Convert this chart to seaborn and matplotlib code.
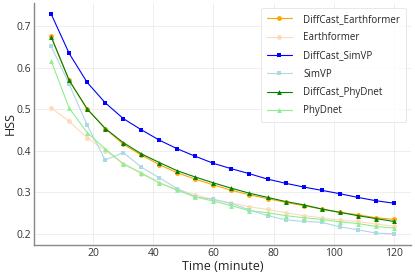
import numpy as np
import pandas as pd
import matplotlib
matplotlib.use("Agg")
import matplotlib.pyplot as plt
import seaborn as sns

# lead time in minutes
time_min = list(range(6, 121, 6))

diffcast_earthformer = [0.676, 0.570, 0.501, 0.454, 0.416, 0.390, 0.367, 0.347, 0.332, 0.318,
                        0.305, 0.294, 0.285, 0.276, 0.268, 0.260, 0.252, 0.246, 0.239, 0.235]
earthformer = [0.504, 0.471, 0.432, 0.401, 0.369, 0.345, 0.323, 0.307, 0.294, 0.283,
               0.275, 0.265, 0.259, 0.251, 0.244, 0.239, 0.233, 0.230, 0.224, 0.218]
diffcast_simvp = [0.730, 0.635, 0.565, 0.516, 0.478, 0.451, 0.426, 0.405, 0.387, 0.370,
                  0.357, 0.345, 0.332, 0.322, 0.313, 0.305, 0.297, 0.288, 0.280, 0.274]
simvp = [0.652, 0.561, 0.462, 0.378, 0.396, 0.361, 0.335, 0.309, 0.289, 0.283,
         0.273, 0.258, 0.244, 0.234, 0.230, 0.228, 0.217, 0.210, 0.202, 0.200]
diffcast_phydnet = [0.675, 0.570, 0.501, 0.454, 0.420, 0.393, 0.372, 0.352, 0.337, 0.323,
                    0.310, 0.298, 0.288, 0.278, 0.270, 0.260, 0.252, 0.244, 0.237, 0.230]
phydnet = [0.617, 0.503, 0.444, 0.405, 0.369, 0.347, 0.323, 0.305, 0.289, 0.279,
           0.268, 0.256, 0.251, 0.244, 0.239, 0.235, 0.229, 0.225, 0.218, 0.214]

models = ["DiffCast_Earthformer", "Earthformer", "DiffCast_SimVP",
          "SimVP", "DiffCast_PhyDnet", "PhyDnet"]
series = [diffcast_earthformer, earthformer, diffcast_simvp,
          simvp, diffcast_phydnet, phydnet]

palette = {"DiffCast_Earthformer": "orange", "Earthformer": "peachpuff",
           "DiffCast_SimVP": "blue", "SimVP": "lightblue",
           "DiffCast_PhyDnet": "green", "PhyDnet": "lightgreen"}
markers = {"DiffCast_Earthformer": "o", "Earthformer": "o",
           "DiffCast_SimVP": "s", "SimVP": "s",
           "DiffCast_PhyDnet": "^", "PhyDnet": "^"}

df = pd.concat([pd.DataFrame({"time": time_min, "hss": vals, "model": name})
                for name, vals in zip(models, series)], ignore_index=True)

sns.set_style("whitegrid")
plt.rcParams["font.family"] = ["Open Sans", "DejaVu Sans"]

fig, ax = plt.subplots(figsize=(4.15, 2.77), dpi=100)
fig.subplots_adjust(left=0.082, right=0.99, bottom=0.116, top=0.989)

sns.lineplot(data=df, x="time", y="hss", hue="model", style="model",
             hue_order=models, style_order=models, palette=palette,
             markers=markers, dashes=False, linewidth=0.8, markersize=3.5,
             markeredgewidth=0, ax=ax)

ax.set_xlabel("Time (minute)", fontsize=9, labelpad=1, color="#222222")
ax.set_ylabel("HSS", fontsize=9, labelpad=0, color="#222222")
ax.set_xticks([20, 40, 60, 80, 100, 120])
ax.set_yticks([0.2, 0.3, 0.4, 0.5, 0.6, 0.7])
ax.tick_params(axis="both", length=0, labelsize=7.5, colors="#333333", pad=2)

for side in ["top", "right"]:
    ax.spines[side].set_visible(False)
for side in ["left", "bottom"]:
    ax.spines[side].set_color("#888888")
    ax.spines[side].set_linewidth(1)
ax.grid(color="#ebebeb", linewidth=0.6)

leg = ax.legend(loc="upper right", fontsize=7, frameon=True, handlelength=2.5,
                labelspacing=0.75, borderpad=0.6, handletextpad=1.2)
leg.get_frame().set_edgecolor("#dddddd")
leg.get_frame().set_linewidth(0.6)

fig.savefig("out.png", dpi=100)
